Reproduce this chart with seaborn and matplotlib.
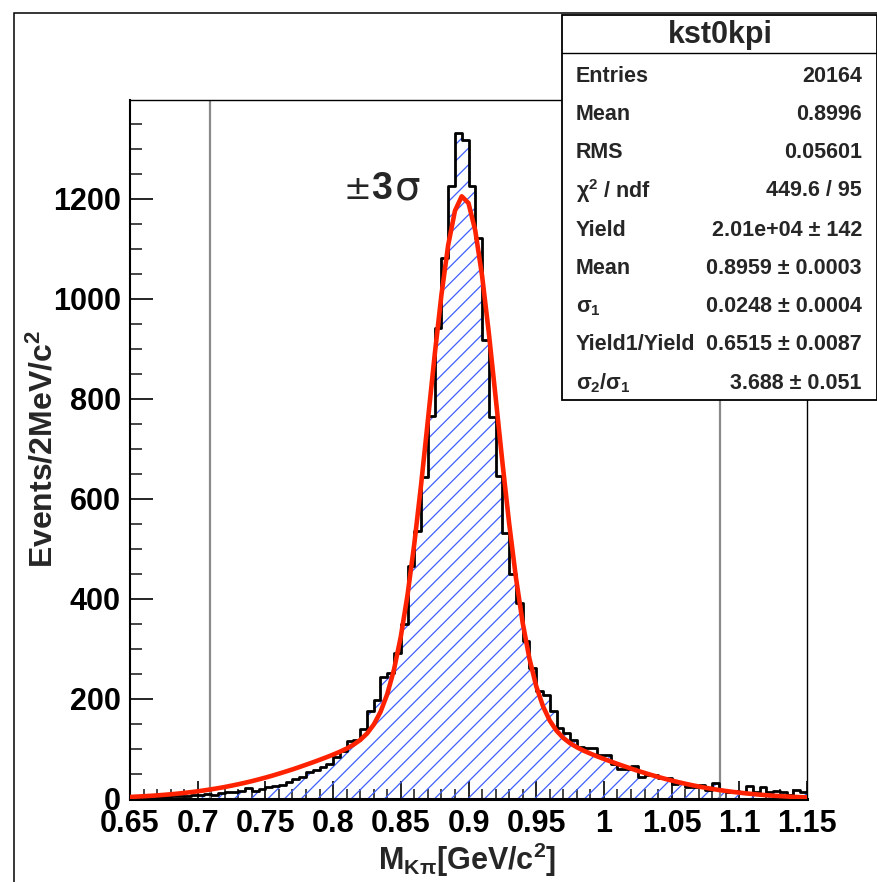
import numpy as np
import pandas as pd
import matplotlib
matplotlib.use("Agg")
import matplotlib.pyplot as plt
import seaborn as sns
from matplotlib.patches import Rectangle
from matplotlib.lines import Line2D
from matplotlib.ticker import MultipleLocator, FuncFormatter

# ---------------- data ----------------
x_min, x_max, n_bins = 0.65, 1.15, 100
counts = [3, 2, 4, 3, 5, 4, 6, 7, 6, 8,
          9, 10, 9, 12, 14, 15, 17, 23, 17, 21,
          24, 27, 29, 34, 40, 45, 55, 58, 64, 70,
          84, 97, 116, 118, 140, 177, 198, 244, 253, 293,
          350, 466, 536, 644, 766, 943, 1083, 1226, 1333, 1319,
          1226, 1122, 918, 764, 646, 533, 450, 393, 317, 263,
          216, 208, 176, 143, 133, 119, 105, 103, 103, 88,
          88, 71, 61, 60, 66, 45, 49, 48, 43, 43,
          30, 33, 25, 25, 28, 19, 33, 18, 15, 17,
          15, 26, 15, 25, 15, 17, 15, 8, 18, 15]

fit_y = [4.1, 4.8, 5.5, 6.3, 7.2, 8.3, 9.4, 10.7, 12.1, 13.7,
         15.4, 17.3, 19.4, 21.6, 24.0, 26.7, 29.5, 32.5, 35.7, 39.2,
         42.8, 46.6, 50.7, 54.9, 59.2, 63.8, 68.5, 73.3, 78.3, 83.4,
         88.8, 94.5, 100.9, 108.5, 118.0, 130.8, 148.7, 174.1, 209.8, 259.1,
         324.7, 408.6, 510.9, 629.0, 757.3, 887.4, 1008.1, 1108.0, 1176.4, 1205.4,
         1191.7, 1136.8, 1047.1, 932.5, 804.5, 674.4, 551.8, 443.4, 352.7, 280.7,
         225.8, 185.6, 156.8, 136.6, 122.2, 111.6, 103.5, 96.7, 90.8, 85.3,
         80.1, 75.1, 70.2, 65.5, 60.9, 56.4, 52.2, 48.1, 44.2, 40.5,
         37.0, 33.7, 30.6, 27.7, 25.0, 22.5, 20.2, 18.0, 16.1, 14.3,
         12.7, 11.2, 9.9, 8.7, 7.6, 6.6, 5.8, 5.0, 4.3, 3.7, 3.2]

sigma_lines = [0.709, 1.086]

stat_title = "kst0kpi"
stat_labels = ["Entries", "Mean", "RMS", r"$\chi^{2}$ / ndf", "Yield", "Mean",
               r"$\sigma_{1}$", "Yield1/Yield", r"$\sigma_{2}/\sigma_{1}$"]
stat_values = ["20164", "0.8996", "0.05601", "449.6 / 95", "2.01e+04 ± 142",
               "0.8959 ± 0.0003", "0.0248 ± 0.0004", "0.6515 ± 0.0087",
               "3.688 ± 0.051"]

# ---------------- style ----------------
sns.set_theme(style="white")
plt.rcParams["font.family"] = ["Liberation Sans", "DejaVu Sans"]
plt.rcParams["font.weight"] = "bold"
plt.rcParams["mathtext.fontset"] = "custom"
plt.rcParams["mathtext.rm"] = "Liberation Sans"
plt.rcParams["mathtext.it"] = "Liberation Sans"
plt.rcParams["mathtext.bf"] = "Liberation Sans:bold"
plt.rcParams["mathtext.default"] = "regular"
plt.rcParams["hatch.linewidth"] = 0.9

W, H = 878, 882
fig = plt.figure(figsize=(W / 100, H / 100), dpi=100)
fig.patch.set_facecolor("white")

def fx(px):
    return px / W

def fy(py):
    return 1 - py / H

ax = fig.add_axes([fx(130), fy(799), fx(807) - fx(130), fy(100) - fy(799)])
ax.set_facecolor("white")

bin_w = (x_max - x_min) / n_bins
hist_df = pd.DataFrame({"mass": [x_min + bin_w * (i + 0.5) for i in range(n_bins)],
                        "events": counts})

sns.histplot(data=hist_df, x="mass", weights="events", bins=n_bins,
             binrange=(x_min, x_max), element="step", fill=True,
             color="#3f5fff", facecolor="none", edgecolor="#3f5fff", hatch="//",
             linewidth=0, ax=ax, zorder=1)
sns.histplot(data=hist_df, x="mass", weights="events", bins=n_bins,
             binrange=(x_min, x_max), element="step", fill=False,
             color="black", linewidth=2.0, ax=ax, zorder=3)

for xv in sigma_lines:
    ax.axvline(xv, color="#8a8a8a", lw=1.6, zorder=2)

fit_df = pd.DataFrame({"mass": np.linspace(x_min, x_max, len(fit_y)), "fit": fit_y})
sns.lineplot(data=fit_df, x="mass", y="fit", color="#ff2200", linewidth=3.3,
             ax=ax, zorder=4)

ax.set_xlim(x_min, x_max)
ax.set_ylim(0, 1398)
ax.set_xlabel("")
ax.set_ylabel("")

ax.xaxis.set_major_locator(MultipleLocator(0.05))
ax.xaxis.set_minor_locator(MultipleLocator(0.01))
ax.yaxis.set_major_locator(MultipleLocator(200))
ax.yaxis.set_minor_locator(MultipleLocator(50))
ax.xaxis.set_major_formatter(FuncFormatter(lambda v, p: "%g" % round(v, 3)))
ax.yaxis.set_major_formatter(FuncFormatter(lambda v, p: "%d" % round(v)))

ax.tick_params(axis="x", which="major", direction="in", length=13, width=1.2,
               labelsize=22, pad=7, bottom=True, top=False, colors="black")
ax.tick_params(axis="x", which="minor", direction="in", length=7, width=1.2,
               bottom=True, top=False)
ax.tick_params(axis="y", which="major", direction="in", length=16.5, width=1.2,
               labelsize=22, pad=6.5, left=True, right=False, colors="black")
ax.tick_params(axis="y", which="minor", direction="in", length=8.5, width=1.2,
               left=True, right=False)
for lbl in ax.get_xticklabels() + ax.get_yticklabels():
    lbl.set_fontweight("bold")

for side, lw in [("left", 1.5), ("bottom", 2.2), ("top", 1.0), ("right", 1.0)]:
    ax.spines[side].set_visible(True)
    ax.spines[side].set_color("black")
    ax.spines[side].set_linewidth(lw)

# axis titles
fig.text(fx(44), fy(449), r"Events/2MeV/c$^{\mathbf{2}}$", rotation=90,
         ha="center", va="center", fontsize=23, fontweight="bold")
fig.text(fx(467), fy(860), r"M$_{\mathbf{K}\pi}$[GeV/c$^{\mathbf{2}}$]",
         ha="center", va="center", fontsize=22, fontweight="bold")

# +-3 sigma annotation
fig.text(fx(344), fy(199), "±", ha="left", va="baseline", fontsize=24,
         fontweight="normal", family="DejaVu Sans")
fig.text(fx(371), fy(199), "3", ha="left", va="baseline", fontsize=27,
         fontweight="bold")
fig.text(fx(395), fy(199), "σ", ha="left", va="baseline", fontsize=29,
         fontweight="normal", family="DejaVu Sans")

# outer pad border
fig.add_artist(Rectangle((fx(14), -0.2), 1.5, fy(13) + 0.2, transform=fig.transFigure,
                         fill=False, edgecolor="black", lw=1.1, zorder=0.5))

# stat box
bx0, bx1, by0, by1 = 562, 877, 15, 400
fig.add_artist(Rectangle((fx(bx0), fy(by1)), fx(bx1) - fx(bx0), fy(by0) - fy(by1),
                         transform=fig.transFigure, facecolor="white",
                         edgecolor="black", lw=1.3, zorder=10))
fig.add_artist(Line2D([fx(bx0), fx(bx1)], [fy(53), fy(53)], transform=fig.transFigure,
                      color="black", lw=1.0, zorder=11))
fig.text(fx(720), fy(35), stat_title, ha="center", va="center", fontsize=22,
         fontweight="bold", zorder=12)
row_y = [76, 114, 153, 191, 230, 268, 307, 345, 383]
for yy, lab, val in zip(row_y, stat_labels, stat_values):
    fig.text(fx(576), fy(yy), lab, ha="left", va="center", fontsize=15.5,
             fontweight="bold", zorder=12)
    fig.text(fx(862), fy(yy), val, ha="right", va="center", fontsize=15.5,
             fontweight="bold", zorder=12)

fig.savefig("out.png", dpi=100)
